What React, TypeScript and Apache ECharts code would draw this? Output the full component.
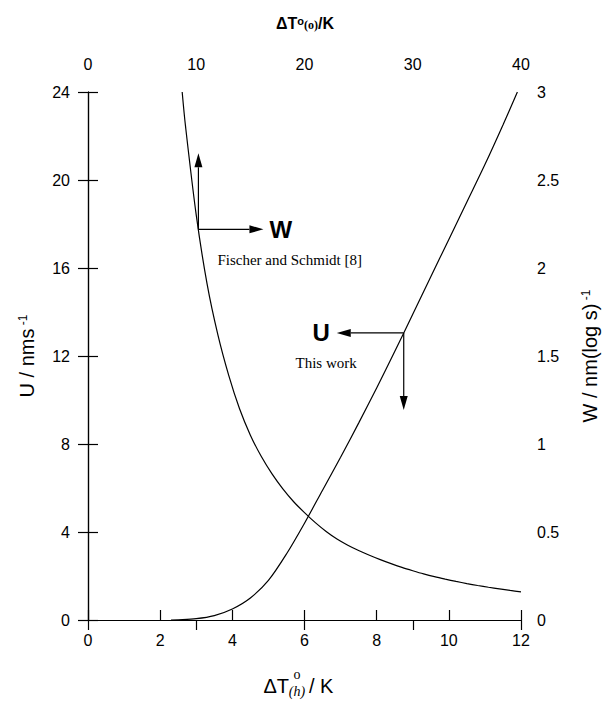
import React, { useEffect, useRef } from "react";
import * as echarts from "echarts";

// U vs ΔT°(h) (bottom / left axes) — "This work"
const uDeltaTh = [2.3, 2.5, 3, 3.5, 4, 4.5, 5, 5.5, 6, 6.5, 7, 7.5, 8, 8.5, 9, 9.5, 10, 10.5, 11, 11.5, 11.9];
const uValues = [0, 0.01, 0.06, 0.2, 0.5, 1.0, 1.8, 3.0, 4.4, 5.9, 7.4, 8.95, 10.55, 12.2, 13.9, 15.6, 17.3, 19.0, 20.7, 22.5, 24];

// W vs ΔT°(o) (top / right axes) — Fischer and Schmidt [8]
const wDeltaTo = [8.7, 9, 10, 11, 12, 13, 14, 15, 16, 17, 18, 19, 20, 21, 22, 23, 24, 25, 26, 27, 28, 29, 30, 31, 32, 33, 34, 35, 36, 37, 38, 39, 40];
const wValues = [3.0, 2.81, 2.3, 1.91, 1.62, 1.39, 1.2, 1.05, 0.93, 0.83, 0.745, 0.672, 0.61, 0.553, 0.503, 0.46, 0.425, 0.395, 0.368, 0.343, 0.32, 0.299, 0.28, 0.262, 0.246, 0.232, 0.219, 0.207, 0.196, 0.186, 0.177, 0.168, 0.16];

// axis ranges / ticks
const bottomAxis = { min: 0, max: 12, interval: 2 };
const topAxis = { min: 0, max: 40, interval: 10 };
const leftAxis = { min: 0, max: 24, interval: 4 };
const rightAxis = { min: 0, max: 3, interval: 0.5 };

// annotation anchors (data coordinates on the curves)
const wAnchor = [10.2, 2.22];
const uAnchor = [8.75, 13.05];

const SANS = "Liberation Sans, Arial, Helvetica, sans-serif";
const SERIF = "Liberation Serif, Times New Roman, serif";

export default function App() {
  const ref = useRef<HTMLDivElement>(null);
  useEffect(() => {
    if (!ref.current) return;
    const chart = echarts.init(ref.current, null, { renderer: "svg" });
    const axisCommon = {
      type: "value" as const,
      axisLine: { show: true, lineStyle: { color: "#000", width: 1.2 } },
      axisTick: { show: true, inside: true, length: 10, lineStyle: { color: "#000", width: 1.2 } },
      splitLine: { show: false },
      axisLabel: { color: "#000", fontSize: 16, fontFamily: SANS },
    };
    chart.setOption({
      animation: false,
      backgroundColor: "#fff",
      grid: { left: 88, right: 91, top: 92, bottom: 82, containLabel: false },
      xAxis: [
        { ...axisCommon, position: "bottom", ...bottomAxis, axisLabel: { ...axisCommon.axisLabel, margin: 12 } },
        { ...axisCommon, position: "top", ...topAxis, axisLabel: { ...axisCommon.axisLabel, margin: 20 } },
      ],
      yAxis: [
        { ...axisCommon, position: "left", ...leftAxis, axisLabel: { ...axisCommon.axisLabel, margin: 18 } },
        { ...axisCommon, position: "right", ...rightAxis, axisLabel: { ...axisCommon.axisLabel, margin: 16 } },
      ],
      series: [
        {
          name: "U",
          type: "line",
          xAxisIndex: 0,
          yAxisIndex: 0,
          data: uDeltaTh.map((x, i) => [x, uValues[i]]),
          smooth: 0.3,
          showSymbol: false,
          lineStyle: { color: "#000", width: 1.2 },
        },
        {
          name: "W",
          type: "line",
          xAxisIndex: 1,
          yAxisIndex: 1,
          data: wDeltaTo.map((x, i) => [x, wValues[i]]),
          smooth: 0.3,
          showSymbol: false,
          lineStyle: { color: "#000", width: 1.2 },
        },
      ],
    });

    const pw = chart.convertToPixel({ xAxisIndex: 1, yAxisIndex: 1 }, wAnchor) as number[];
    const pu = chart.convertToPixel({ xAxisIndex: 0, yAxisIndex: 0 }, uAnchor) as number[];

    const arrow = (x1: number, y1: number, x2: number, y2: number) => {
      const ang = Math.atan2(y2 - y1, x2 - x1);
      const L = 14, H = 4;
      const bx = x2 - L * Math.cos(ang), by = y2 - L * Math.sin(ang);
      const nx = -Math.sin(ang) * H, ny = Math.cos(ang) * H;
      return [
        { type: "line", shape: { x1, y1, x2: bx, y2: by }, style: { stroke: "#000", lineWidth: 1.2 } },
        {
          type: "polygon",
          shape: { points: [[x2, y2], [bx + nx, by + ny], [bx - nx, by - ny]] },
          style: { fill: "#000" },
        },
      ];
    };

    const graphic: any[] = [
      ...arrow(pw[0], pw[1], pw[0], pw[1] - 76),
      ...arrow(pw[0], pw[1], pw[0] + 65, pw[1]),
      { type: "text", x: pw[0] + 71, y: pw[1], style: { text: "W", font: `bold 24px ${SANS}`, fill: "#000", verticalAlign: "middle" } },
      { type: "text", x: pw[0] + 19, y: pw[1] + 31, style: { text: "Fischer and Schmidt [8]", font: `15px ${SERIF}`, fill: "#000", verticalAlign: "middle" } },
      ...arrow(pu[0], pu[1], pu[0] - 67, pu[1]),
      ...arrow(pu[0], pu[1], pu[0], pu[1] + 77),
      { type: "text", x: pu[0] - 74, y: pu[1], style: { text: "U", font: `bold 24px ${SANS}`, fill: "#000", align: "right", verticalAlign: "middle" } },
      { type: "text", x: pu[0] - 47, y: pu[1] + 30, style: { text: "This work", font: `15px ${SERIF}`, fill: "#000", align: "right", verticalAlign: "middle" } },
      // top title ΔT°(o)/K
      {
        type: "text", x: 305, y: 23,
        style: {
          text: "{a|ΔT}{sup|o}{sub|(o)}{a|/K}",
          align: "center", verticalAlign: "middle",
          rich: {
            a: { font: `bold 16px ${SANS}`, fill: "#000", verticalAlign: "bottom" },
            sup: { font: `bold 11px ${SANS}`, fill: "#000", verticalAlign: "top" },
            sub: { font: `bold 12px ${SERIF}`, fill: "#000", verticalAlign: "bottom" },
          },
        },
      },
      // bottom title ΔT°(h) / K
      { type: "text", x: 289, y: 686, style: { text: "ΔT", font: `20px ${SANS}`, fill: "#000", align: "right", verticalAlign: "middle" } },
      { type: "text", x: 297, y: 674, style: { text: "o", font: `14px ${SERIF}`, fill: "#000", align: "center", verticalAlign: "middle" } },
      { type: "text", x: 297, y: 691, style: { text: "(h)", font: `italic 14px ${SERIF}`, fill: "#000", align: "center", verticalAlign: "middle" } },
      { type: "text", x: 309, y: 686, style: { text: "/ K", font: `20px ${SANS}`, fill: "#000", align: "left", verticalAlign: "middle" } },
      // left title
      {
        type: "text", x: 27, y: 356, rotation: Math.PI / 2,
        style: {
          text: "{a|U / nms}{sup| -1}",
          align: "center", verticalAlign: "middle",
          rich: {
            a: { font: `20px ${SANS}`, fill: "#000", verticalAlign: "bottom" },
            sup: { font: `12px ${SANS}`, fill: "#000", verticalAlign: "top" },
          },
        },
      },
      // right title
      {
        type: "text", x: 590, y: 356, rotation: Math.PI / 2,
        style: {
          text: "{a|W / nm(log s)}{sup| -1}",
          align: "center", verticalAlign: "middle",
          rich: {
            a: { font: `20px ${SANS}`, fill: "#000", verticalAlign: "bottom" },
            sup: { font: `12px ${SANS}`, fill: "#000", verticalAlign: "top" },
          },
        },
      },
    ];
    chart.setOption({ graphic });

    return () => chart.dispose();
  }, []);
  return <div ref={ref} style={{ position: "fixed", left: 0, top: 0, width: 612, height: 702, background: "#fff" }} />;
}
